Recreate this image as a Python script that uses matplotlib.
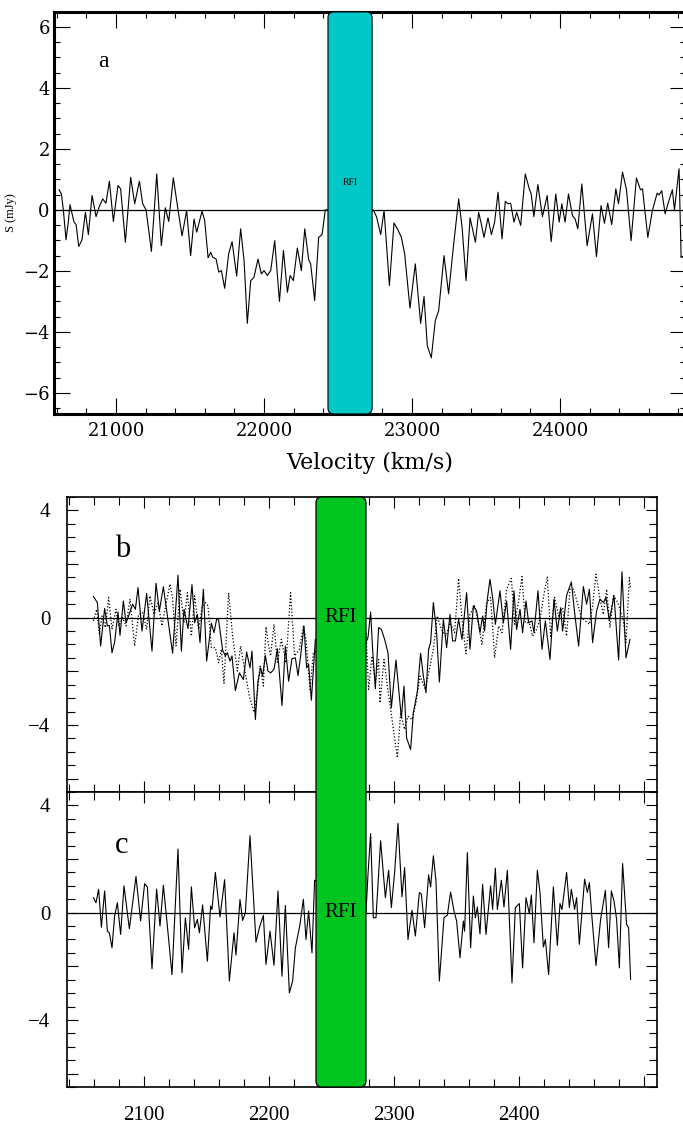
import numpy as np
import matplotlib
matplotlib.use('Agg')
import matplotlib.pyplot as plt
from matplotlib.patches import FancyBboxPatch
from matplotlib.transforms import blended_transform_factory
from matplotlib.ticker import MultipleLocator

plt.rcParams['font.family'] = ['Liberation Serif', 'DejaVu Serif']

# ---- panel a : spectrum vs velocity (km/s), flux in mJy
vel_a = [20615, 20631, 20644, 20662, 20676, 20689, 20703, 20716, 20730, 20748,
         20770, 20793, 20813, 20838, 20865, 20887, 20910, 20932, 20955, 20982,
         21013, 21031, 21063, 21099, 21126, 21158, 21180, 21203, 21239, 21275,
         21306, 21333, 21356, 21387, 21419, 21446, 21477, 21504,
         21527, 21545, 21581, 21599, 21622, 21640, 21653, 21676, 21694, 21712,
         21734, 21761, 21784, 21815, 21842, 21865, 21887, 21910, 21932, 21959,
         21982, 22000, 22022, 22045, 22072, 22104, 22131, 22158, 22176, 22198,
         22225, 22252, 22275, 22302, 22315, 22342, 22369, 22392, 22414,
         22739, 22761, 22788, 22811, 22847, 22878, 22901, 22928, 22950, 22986,
         23022, 23058, 23081, 23103, 23130, 23157, 23180, 23216, 23247, 23279,
         23315, 23338, 23365, 23392, 23428, 23450, 23468, 23486, 23513, 23536,
         23558, 23581, 23608, 23630, 23648, 23666, 23689, 23707, 23734, 23765,
         23792, 23805, 23823, 23850, 23881, 23913, 23940, 23971, 23994, 24012,
         24034, 24057, 24084, 24102, 24120, 24147, 24183, 24219, 24246, 24277,
         24300, 24322, 24349, 24377, 24395, 24422, 24449, 24480, 24516, 24543,
         24557, 24593, 24624, 24656, 24669, 24687, 24710, 24732, 24759, 24773,
         24804, 24818, 24834]
flux_a = [0.66, 0.52, 0.0, -0.98, -0.46, 0.17, -0.13, -0.40, -0.48, -1.20,
          -0.98, -0.08, -0.81, 0.47, -0.22, 0.11, 0.36, 0.22, 0.94, -0.38,
          0.80, 0.69, -1.06, 1.07, 0.20, 0.94, 0.20, 0.0, -1.36, 1.18,
          -1.17, 0.07, -0.38, 1.05, 0.0, -0.85, -0.02, -1.50,
          -0.30, -0.73, -0.04, -0.35, -1.57, -1.39, -1.55, -1.61, -2.04, -1.99,
          -2.57, -1.44, -1.04, -2.17, -0.62, -1.66, -3.72, -2.32, -2.21, -1.61,
          -2.10, -1.99, -2.15, -1.99, -1.01, -3.00, -1.33, -2.70, -2.15, -2.32,
          -1.25, -1.99, -0.62, -1.64, -1.77, -2.97, -0.90, -0.81, 0.0,
          0.0, -0.24, -0.81, -0.02, -2.48, -0.43, -0.62, -0.90, -1.44, -3.22,
          -1.77, -3.72, -2.84, -4.45, -4.85, -3.63, -3.30, -1.50, -2.75, -1.22,
          0.36, -0.57, -2.32, -0.26, -1.06, -0.08, -0.46, -0.90, -0.26, -0.81,
          -0.40, 0.58, -0.95, 0.28, 0.20, 0.22, -0.40, -0.08, -0.51, 1.18,
          0.69, 0.52, -0.22, 0.83, -0.22, 0.47, -1.04, 0.52, -0.40, 0.20,
          -0.40, 0.52, -0.19, -0.30, -0.62, 0.85, -1.17, -0.13, -1.53, 0.14,
          -0.44, 0.22, -0.48, 0.69, 0.20, 1.24, 0.66, -1.01, 1.05, 0.66,
          0.69, -0.90, -0.02, 0.55, 0.49, 0.63, -0.13, 0.25, 0.66, 0.0,
          1.35, -1.55, -1.55]
rfi_a = (22432, 22730)

# ---- panel b : two spectra (solid, dotted)
vel_b1 = [2059.5, 2062.7, 2065.3, 2068.5, 2070.7, 2072.3, 2074.4, 2076.5, 2079.2, 2080.8,
          2083.5, 2085.6, 2087.7, 2090.9, 2093.1, 2095.2, 2098.4, 2102.1, 2106.4, 2109.6,
          2112.3, 2115.5, 2118.7, 2122.9, 2127.2, 2129.9, 2132.0, 2135.2, 2138.4, 2140.5,
          2142.7, 2144.8, 2147.5, 2150.1, 2153.9, 2156.0, 2158.1, 2159.7, 2162.9, 2165.1,
          2166.7, 2168.8, 2170.4, 2173.1, 2176.3, 2179.5, 2182.1, 2184.8, 2186.4, 2189.1,
          2191.2, 2193.3, 2194.9, 2197.1, 2199.2, 2201.3, 2204.0, 2206.7, 2210.4, 2213.1,
          2215.7, 2218.4, 2221.1, 2223.2, 2225.3, 2228.0, 2230.1, 2231.7, 2233.9, 2237.1,
          2277.6, 2279.2, 2281.3, 2282.9, 2285.1, 2287.7, 2289.9, 2292.5, 2295.2, 2297.9,
          2301.6, 2305.9, 2308.0, 2310.1, 2313.3, 2315.5, 2318.7, 2321.3, 2323.5, 2325.6,
          2327.7, 2329.3, 2331.5, 2334.1, 2336.3, 2339.5, 2342.1, 2344.8, 2346.9, 2349.1,
          2351.7, 2354.4, 2358.1, 2360.8, 2363.5, 2366.1, 2368.8, 2370.9, 2372.5, 2374.7,
          2376.8, 2378.9, 2381.1, 2384.8, 2387.5, 2390.1, 2393.3, 2396.0, 2398.1, 2400.8,
          2402.9, 2405.6, 2407.7, 2410.4, 2412.0, 2415.2, 2418.4, 2421.1, 2424.8, 2428.0,
          2430.7, 2433.3, 2434.9, 2438.1, 2441.9, 2444.5, 2447.7, 2451.5, 2454.1, 2456.3,
          2458.9, 2462.1, 2464.8, 2467.5, 2469.6, 2472.3, 2476.0, 2479.7, 2482.4, 2485.6,
          2488.8]
flux_b1 = [0.79, 0.56, -1.06, 0.34, -0.31, -0.29, -1.31, -0.91, 0.21, -0.66,
           0.62, -0.19, 0.06, 0.50, 0.31, 1.12, -0.50, 0.90, -1.25, 1.28,
           0.25, 1.15, 0.09, -1.33, 1.58, -1.25, 0.31, -0.41, 1.23, -0.19,
           0.12, -0.93, 1.06, -1.62, -0.21, -0.56, -0.06, -0.09, -1.21, -1.43,
           -1.31, -1.62, -1.43, -2.72, -2.06, -2.31, -1.28, -1.87, -1.25, -3.80,
           -2.37, -1.87, -2.18, -1.41, -1.99, -2.06, -1.93, -1.16, -3.28, -1.06,
           -2.37, -1.53, -1.50, -2.16, -1.43, -0.31, -1.87, -1.74, -3.08, -0.81,
           -0.93, -0.74, 0.21, -1.18, -2.65, -0.37, -0.44, -0.81, -1.31, -3.36,
           -1.58, -3.74, -2.55, -4.49, -4.92, -3.55, -2.74, -1.33, -2.18, -2.80,
           -1.18, -0.93, 0.56, -0.56, -2.40, -0.06, -1.12, 0.12, -0.87, -0.87,
           -0.06, -0.81, 0.93, -1.18, 0.44, 0.25, -0.56, 0.06, -0.50, 0.69,
           1.43, 0.75, -0.25, 1.00, -0.19, 0.62, -1.18, 1.00, -0.44, 0.31,
           -0.56, 0.62, -0.19, -0.12, -0.56, 1.00, -1.18, -0.12, -1.56, 0.69,
           -0.50, 0.37, -0.50, 0.83, 1.33, 0.19, -1.06, 1.16, 0.50, 1.06,
           -0.93, 0.25, 0.69, 0.56, 0.75, -0.12, 0.83, -1.58, 1.71, -1.50,
           -0.81]

vel_b2 = [2059.5, 2062.1, 2064.3, 2066.4, 2069.1, 2071.7, 2074.4, 2077.6, 2079.7, 2082.9,
          2085.6, 2088.8, 2092.5, 2095.7, 2098.9, 2102.1, 2104.8, 2108.0, 2111.2, 2114.4,
          2117.6, 2120.8, 2122.9, 2125.6, 2128.8, 2132.0, 2134.7, 2137.9, 2140.5, 2143.7,
          2146.4, 2149.1, 2151.2, 2153.9, 2157.1, 2159.7, 2161.9, 2164.0, 2167.7, 2170.9,
          2174.7, 2177.3, 2180.5, 2184.3, 2188.0, 2190.7, 2192.8, 2195.5, 2197.6, 2199.7,
          2201.3, 2204.0, 2206.7, 2209.9, 2213.6, 2217.3, 2220.5, 2224.3, 2227.5, 2229.6,
          2232.8, 2235.5,
          2277.6, 2279.7, 2282.4, 2285.1, 2287.7, 2288.8, 2292.0, 2294.7, 2298.4, 2302.7,
          2305.3, 2308.5, 2311.2, 2314.4, 2317.6, 2320.8, 2325.1, 2328.3, 2331.5, 2334.7,
          2337.9, 2341.6, 2344.8, 2348.5, 2351.7, 2354.9, 2357.6, 2360.8, 2364.5, 2367.2,
          2370.4, 2374.1, 2377.3, 2380.5, 2383.7, 2386.4, 2390.1, 2393.9, 2396.5, 2399.7,
          2402.4, 2405.1, 2408.3, 2410.9, 2414.1, 2416.8, 2420.0, 2422.7, 2425.3, 2428.5,
          2431.7, 2434.9, 2438.1, 2440.8, 2443.5, 2446.7, 2449.9, 2453.1, 2456.3, 2458.9,
          2461.6, 2464.8, 2467.5, 2470.1, 2472.8, 2475.5, 2479.2, 2483.5, 2485.6, 2488.3,
          2489.3]
flux_b2 = [-0.12, 0.31, -0.62, 0.06, -0.37, 0.75, -0.44, 0.31, -0.31, 0.0,
           -0.31, 0.69, -1.06, 0.12, 0.19, -0.44, 0.81, 0.12, 0.56, -0.31,
           0.50, 1.25, 0.69, -1.06, 1.06, -0.19, 0.93, -0.69, 0.81, -0.44,
           0.37, 0.56, 0.44, -1.12, -1.12, -1.68, -1.18, -2.45, 0.93, -0.69,
           -1.99, -1.06, -1.93, -2.93, -3.53, -2.80, -1.81, -2.55, -0.34, -1.06,
           -1.43, -0.25, -1.66, -0.81, -1.68, 0.93, -1.43, -1.18, -0.31, -0.81,
           -2.68, -1.31,
           -0.56, -2.68, -1.43, -2.43, -1.56, -3.18, -1.56, -2.55, -3.80, -5.23,
           -3.55, -4.17, -3.68, -3.80, -3.18, -2.18, -2.68, -1.93, -1.18, 0.06,
           -0.44, -0.69, -0.19, -0.56, 1.46, -0.31, -1.35, 0.12, 0.44, -0.12,
           -1.00, 0.56, 0.75, -1.50, -0.31, -0.56, 1.06, 1.46, -0.25, 0.62,
           1.53, -0.19, -0.19, -0.69, -0.44, -0.06, 0.87, 1.53, -0.69, 0.75,
           0.06, 0.37, -0.69, 1.06, 1.06, 0.56, 0.0, -0.12, -0.25, 0.44,
           1.62, 0.69, 0.12, 1.06, -0.37, 0.81, 0.56, -0.12, -0.93, 1.50,
           1.06]

# ---- panel c : residual spectrum
vel_c = [2059.5, 2061.6, 2063.7, 2065.9, 2068.5, 2070.7, 2072.3, 2074.4, 2076.5, 2078.7,
         2081.3, 2084.0, 2088.3, 2093.6, 2097.3, 2100.5, 2102.7, 2106.4, 2110.1, 2112.8,
         2115.5, 2118.7, 2122.4, 2127.2, 2130.4, 2133.1, 2135.7, 2137.9, 2140.5, 2142.7,
         2144.3, 2146.9, 2150.7, 2153.3, 2154.4, 2157.1, 2160.8, 2164.5, 2168.3, 2172.0,
         2173.6, 2176.8, 2178.9, 2181.1, 2184.8, 2189.6, 2192.3, 2195.5, 2197.6, 2200.8,
         2204.0, 2207.2, 2210.4, 2213.1, 2216.3, 2218.9, 2221.1, 2224.8, 2227.5, 2229.6,
         2231.7, 2234.4, 2236.5,
         2277.6, 2279.2, 2281.3, 2283.5, 2285.6, 2289.3, 2293.1, 2295.7, 2297.9, 2300.5,
         2303.2, 2306.4, 2308.5, 2311.2, 2314.4, 2317.1, 2320.3, 2321.9, 2324.5, 2327.7,
         2329.3, 2331.5, 2333.6, 2336.3, 2340.0, 2342.7, 2345.3, 2348.0, 2350.1, 2352.8,
         2355.5, 2356.5, 2358.7, 2361.3, 2363.5, 2365.1, 2366.7, 2368.8, 2370.9, 2373.6,
         2377.3, 2378.9, 2381.1, 2382.7, 2385.9, 2388.0, 2390.7, 2394.4, 2397.1, 2400.3,
         2402.9, 2405.6, 2408.3, 2409.9, 2412.0, 2414.7, 2416.8, 2419.5, 2421.1, 2423.7,
         2427.5, 2430.7, 2432.8, 2434.4, 2438.1, 2440.3, 2441.9, 2444.5, 2446.1, 2448.3,
         2452.5, 2454.7, 2456.3, 2458.4, 2461.6, 2465.3, 2469.1, 2471.7, 2473.9, 2476.0,
         2478.1, 2480.3, 2482.9, 2486.1, 2487.7, 2489.3]
flux_c = [0.56, 0.37, 0.87, -0.54, 0.81, -0.69, -0.75, -1.31, -0.12, 0.37,
          -0.81, 1.00, -0.60, 1.35, -0.31, 1.08, 0.96, -2.09, 0.88, -0.50,
          1.02, -0.50, -2.31, 2.37, -2.24, -0.19, -1.37, 0.96, -0.56, -0.25,
          -0.75, 0.29, -1.81, 0.25, 0.12, 1.50, -0.16, 1.23, -2.55, -0.75,
          -1.58, 0.49, -0.29, 0.0, 2.87, -1.10, -0.56, -0.10, -1.93, -0.69,
          -1.96, 0.81, -2.37, 0.27, -2.99, -2.55, -1.31, -0.44, 0.50, -1.00,
          0.06, -1.50, 1.21,
          0.0, 1.43, 2.95, -0.19, -0.19, 2.68, 0.56, 1.58, 0.19, 1.50,
          3.33, 0.59, 1.68, -1.00, 0.09, -0.87, 0.75, 0.69, -0.56, 1.41,
          0.96, 2.12, 1.18, -2.55, -0.19, -0.09, 0.77, 0.06, -0.31, -1.68,
          -0.31, -0.69, 2.24, -1.31, 0.62, -0.19, 0.21, -0.79, 1.06, -0.81,
          1.00, 0.12, 1.66, 0.12, 1.21, 0.21, 1.58, -2.62, 0.19, 0.34,
          -2.06, 0.56, -0.04, 0.66, -1.12, 1.58, 0.75, -1.28, -1.00, -2.31,
          0.96, -1.22, 0.34, 0.12, 1.50, 0.19, 0.87, 0.12, 0.56, -1.18,
          1.25, 0.75, 1.12, -0.19, -1.97, -0.25, 0.83, -1.31, 0.81, 0.44,
          -0.25, -2.06, 1.83, -0.44, -0.56, -2.49]
rfi_bc = (2237.6, 2277.6)

xticks_bc = [2100, 2200, 2300, 2400, 2500]
xticklabels_bc = ['2100', '2200', '2300', '2400', '']
yticks_bc = [-6, -4, -2, 0, 2, 4]
yticklabels_bc = ['', '\u22124', '', '0', '', '4']

fig = plt.figure(figsize=(6.83, 11.24), dpi=100)
# top panel runs off the right edge of the figure, so its right spine is cut
ax_a = fig.add_axes([0.0791, 0.6317, 0.9253, 0.3577])
ax_b = fig.add_axes([0.0981, 0.2954, 0.8638, 0.2625])
ax_c = fig.add_axes([0.0981, 0.0329, 0.8638, 0.2625])

# ---------------- panel a
ax_a.plot(vel_a, flux_a, color='k', lw=0.8, zorder=2)
ax_a.axhline(0, color='k', lw=0.9, zorder=2)
ax_a.set_xlim(20581, 24851)
ax_a.set_ylim(-6.69, 6.49)
tr_a = blended_transform_factory(ax_a.transData, ax_a.transAxes)
box_a = FancyBboxPatch((rfi_a[0], 0), rfi_a[1] - rfi_a[0], 1,
                       boxstyle='round,pad=0,rounding_size=40',
                       mutation_aspect=0.00037, transform=tr_a,
                       facecolor='#00c8c8', edgecolor='k', lw=0.8, zorder=3)
ax_a.add_patch(box_a)
ax_a.text(sum(rfi_a) / 2, 0.89, 'RFI', fontsize=7, ha='center', va='center', zorder=4)
ax_a.text(20912, 4.85, 'a', fontsize=17, ha='center', va='center')
ax_a.set_xticks([21000, 22000, 23000, 24000], ['21000', '22000', '23000', '24000'],
                fontfamily='DejaVu Serif', fontsize=13)
ax_a.set_yticks([-6, -4, -2, 0, 2, 4, 6], ['\u22126', '\u22124', '\u22122', '0', '2', '4', '6'],
                fontfamily='DejaVu Serif', fontsize=13)
ax_a.xaxis.set_minor_locator(MultipleLocator(200))
ax_a.yaxis.set_minor_locator(MultipleLocator(0.5))
ax_a.tick_params(which='both', direction='in', top=True, right=True, width=0.8)
ax_a.tick_params(which='major', length=11.5)
ax_a.tick_params(which='minor', length=4.5)
ax_a.tick_params(axis='x', pad=6)
ax_a.tick_params(axis='y', pad=3)
for s in ax_a.spines.values():
    s.set_linewidth(2.2)
ax_a.set_xlabel('Velocity (km/s)', fontfamily='DejaVu Serif', fontsize=16, labelpad=8)
ax_a.set_ylabel('S (mJy)', fontsize=9)
ax_a.yaxis.set_label_coords(-0.058, 0.5)

# ---------------- panels b and c
ax_b.plot(vel_b2, flux_b2, color='k', lw=0.9, ls=(0, (1, 1.6)))
ax_b.plot(vel_b1, flux_b1, color='k', lw=0.8)
ax_c.plot(vel_c, flux_c, color='k', lw=0.8)
for ax in (ax_b, ax_c):
    ax.axhline(0, color='k', lw=0.9)
    ax.set_xlim(2038.4, 2510.4)
    ax.set_ylim(-6.5, 4.5)
    ax.set_xticks(xticks_bc, xticklabels_bc, fontsize=15)
    ax.set_yticks(yticks_bc, yticklabels_bc, fontsize=15)
    ax.xaxis.set_minor_locator(MultipleLocator(20))
    ax.yaxis.set_minor_locator(MultipleLocator(0.5))
    ax.tick_params(which='both', direction='in', top=True, right=True, width=0.8)
    ax.tick_params(which='major', length=8)
    ax.tick_params(which='minor', length=5.5)
    ax.tick_params(axis='x', pad=14)
    ax.tick_params(axis='y', pad=12)
    for s in ax.spines.values():
        s.set_linewidth(1.2)
ax_b.tick_params(labelbottom=False)
ax_b.text(2083, 2.54, 'b', fontsize=22, ha='center', va='center')
ax_c.text(2082, 2.5, 'c', fontsize=22, ha='center', va='center')

# RFI band spanning b and c (drawn in c, extends up through b)
tr_c = blended_transform_factory(ax_c.transData, ax_c.transAxes)
box_bc = FancyBboxPatch((rfi_bc[0], 0), rfi_bc[1] - rfi_bc[0], 2.0,
                        boxstyle='round,pad=0,rounding_size=4.8',
                        mutation_aspect=0.0042, transform=tr_c,
                        facecolor='#00c41f', edgecolor='k', lw=0.9,
                        clip_on=False, zorder=3)
ax_c.add_patch(box_bc)
rfi_x = sum(rfi_bc) / 2
ax_c.text(rfi_x, 0, 'RFI', fontsize=15, ha='center', va='center', zorder=4)
ax_c.text(rfi_x, 0, 'RFI', fontsize=15, ha='center', va='center', zorder=4,
          transform=blended_transform_factory(ax_c.transData, ax_b.transData),
          clip_on=False)

fig.savefig('out.png', dpi=100)
